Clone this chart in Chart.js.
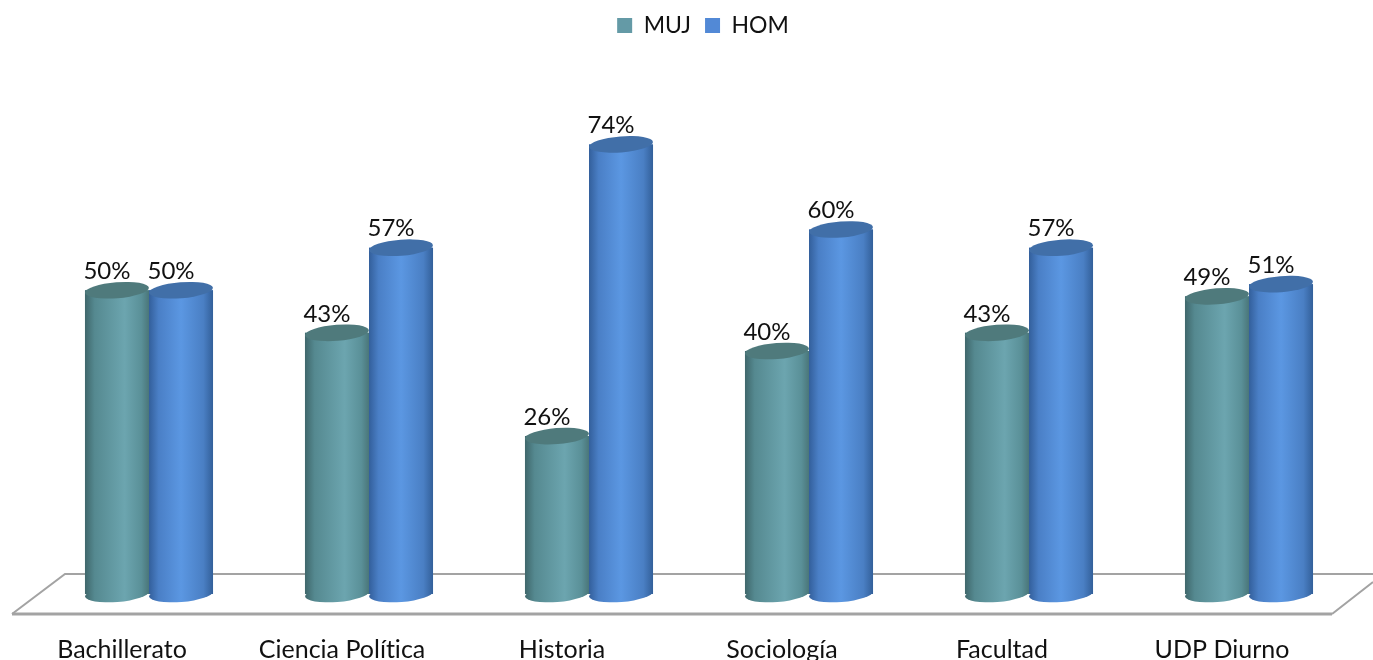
<!DOCTYPE html>
<html>
<head>
<meta charset="utf-8">
<style>
html, body { margin: 0; padding: 0; background: #fff; overflow: hidden; }
canvas { display: block; }
</style>
<script src="https://cdn.jsdelivr.net/npm/chart.js@4"></script>
</head>
<body>
<canvas id="genderChart" width="1373" height="660"></canvas>
<script>
const categories = ["Bachillerato", "Ciencia Política", "Historia", "Sociología", "Facultad", "UDP Diurno"];
const mujValues = [50, 43, 26, 40, 43, 49];
const homValues = [50, 57, 74, 60, 57, 51];

const FONT = "Lato, sans-serif";
const tilt = -4.5 * Math.PI / 180;
const ry = 8;
const shades = {
    MUJ: {
        flat: "#649AA6", top: "#4F7A7C",
        stops: [[0, "#3F676B"], [0.15, "#558990"], [0.62, "#6CA5AF"], [0.88, "#5A9098"], [1, "#4A7679"]]
    },
    HOM: {
        flat: "#5289D6", top: "#416FA8",
        stops: [[0, "#335F9B"], [0.15, "#4A7FC6"], [0.5, "#5B97E2"], [0.85, "#4A7FC4"], [1, "#33609A"]]
    }
};

function bodyGradient(ctx, el, c) {
    const g = ctx.createLinearGradient(el.x - el.width / 2, 0, el.x + el.width / 2, 0);
    c.stops.forEach((s) => g.addColorStop(s[0], s[1]));
    return g;
}

// floor plate behind the bars
const floorPlugin = {
    id: "floor",
    beforeDraw(chart) {
        chart.ctx.letterSpacing = "0.01px"; // no "ti" ligature in Política
    },
    beforeDatasetsDraw(chart) {
        const { ctx, chartArea } = chart;
        const base = chart.scales.y.getPixelForValue(0);
        ctx.save();
        ctx.strokeStyle = "#A3A3A3";
        ctx.lineWidth = 2;
        ctx.beginPath();
        ctx.moveTo(chartArea.left - 27, base + 20);
        ctx.lineTo(chartArea.left + 26, base - 20);
        ctx.lineTo(chart.width, base - 20);
        ctx.moveTo(chartArea.right - 27, base + 20);
        ctx.lineTo(chart.width, base - 12);
        ctx.stroke();
        ctx.lineWidth = 3;
        ctx.beginPath();
        ctx.moveTo(chartArea.left - 27, base + 20);
        ctx.lineTo(chartArea.right - 27, base + 20);
        ctx.stroke();
        ctx.restore();
    }
};

// shades each chart.js bar as a cylinder, using the bar's own x, y and width
const cylinderPlugin = {
    id: "cylinder",
    afterDatasetsDraw(chart) {
        const ctx = chart.ctx;
        const base = chart.scales.y.getPixelForValue(0);
        chart.data.datasets.forEach((ds, d) => {
            const c = shades[ds.label];
            chart.getDatasetMeta(d).data.forEach((el, i) => {
                const rx = el.width / 2;
                ctx.save();
                ctx.fillStyle = bodyGradient(ctx, el, c);
                ctx.fillRect(el.x - rx, el.y, el.width, base - el.y);
                ctx.beginPath();
                ctx.ellipse(el.x, base, rx, ry, tilt, 0, Math.PI * 2);
                ctx.fill();
                ctx.fillStyle = c.top;
                ctx.beginPath();
                ctx.ellipse(el.x, el.y, rx, ry, tilt, 0, Math.PI * 2);
                ctx.fill();
                ctx.fillStyle = "#111";
                ctx.font = "24px " + FONT;
                ctx.textAlign = "center";
                ctx.textBaseline = "middle";
                ctx.fillText(ds.data[i] + "%", el.x - 10, el.y - 19);
                ctx.restore();
            });
        });
    }
};

new Chart(document.getElementById("genderChart").getContext("2d"), {
    type: "bar",
    data: {
        labels: categories,
        datasets: [
            { label: "MUJ", data: mujValues, backgroundColor: shades.MUJ.flat, categoryPercentage: 0.582, barPercentage: 1 },
            { label: "HOM", data: homValues, backgroundColor: shades.HOM.flat, categoryPercentage: 0.582, barPercentage: 1 }
        ]
    },
    options: {
        responsive: false,
        animation: false,
        layout: { padding: { left: 39, right: 14, top: 0, bottom: 0 } },
        scales: {
            x: {
                grid: { display: false },
                border: { display: false },
                ticks: { color: "#111", font: { family: FONT, size: 25 }, labelOffset: -27, padding: 33, maxRotation: 0, autoSkip: false },
                afterFit(scale) { scale.height = 66; }
            },
            y: { display: false, min: 0, max: 80 }
        },
        plugins: {
            legend: {
                position: "top",
                align: "center",
                labels: {
                    boxWidth: 15,
                    boxHeight: 15,
                    padding: 14,
                    color: "#111",
                    font: { family: FONT, size: 23 }
                }
            },
            tooltip: { enabled: false }
        }
    },
    plugins: [floorPlugin, cylinderPlugin, {
        id: "legendPlace",
        beforeInit(chart) {
            const fit = chart.legend.fit;
            chart.legend.fit = function () {
                fit.call(this);
                this.height = 108;
            };
        },
        afterLayout(chart) {
            chart.legend.left += 4;
            chart.legend.right += 4;
        }
    }]
});
</script>
</body>
</html>
